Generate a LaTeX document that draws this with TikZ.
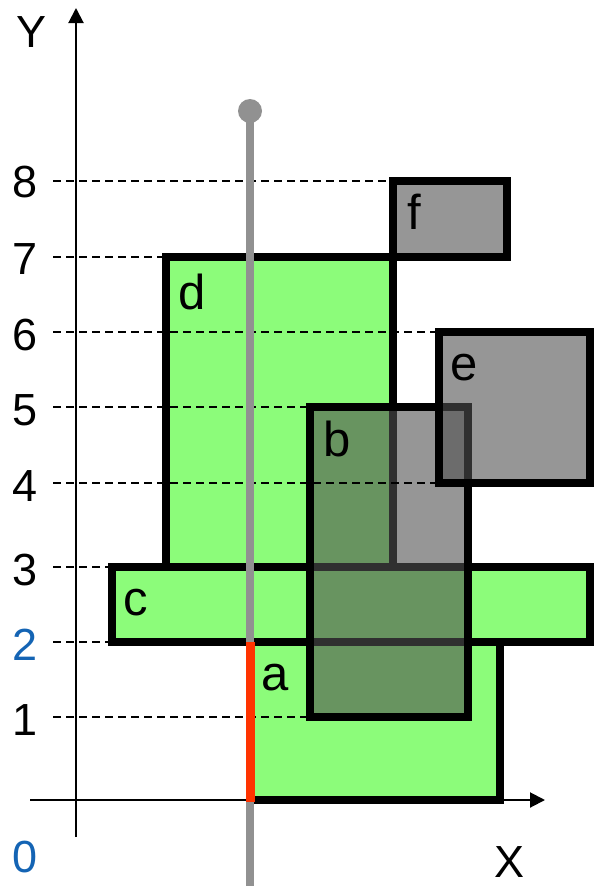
\documentclass[tikz,border=0pt]{standalone}
\usepackage{fontspec}
\setmainfont{Liberation Sans}
\usetikzlibrary{arrows.meta}
\definecolor{rectgreen}{RGB}{140,252,122}
\definecolor{shadegray}{RGB}{80,80,80}
\definecolor{rodgray}{RGB}{145,145,145}
\definecolor{redseg}{RGB}{255,51,0}
\definecolor{tickblue}{RGB}{20,100,180}
\tikzset{
  greenbox/.style={fill=rectgreen},
  boxline/.style={draw=black,line width=7.5pt,line join=miter},
  shadebox/.style={fill=shadegray,fill opacity=0.6},
  guide/.style={draw=black,line width=1.5pt,dash pattern=on 8pt off 5pt},
  axisline/.style={draw=black,line width=2pt,-{Triangle[length=15pt,width=15pt]}},
  ticklabel/.style={inner sep=0pt,font=\fontsize{45}{45}\selectfont},
  boxlabel/.style={inner sep=0pt,font=\fontsize{49}{49}\selectfont},
}
\begin{document}
\begin{tikzpicture}[x=1pt,y=-1pt]
\useasboundingbox (0,0) rectangle (594,886);
% corner coordinates
\coordinate (a1) at (250,642); \coordinate (a2) at (500,800);
\coordinate (c1) at (112,567); \coordinate (c2) at (590,642);
\coordinate (d1) at (166,257); \coordinate (d2) at (393,567);
\coordinate (b1) at (310,407); \coordinate (b2) at (468,717);
\coordinate (e1) at (439,332); \coordinate (e2) at (590,483);
\coordinate (f1) at (393,181); \coordinate (f2) at (507,257);
% green boxes
\fill[greenbox] (a1) rectangle (a2);
\fill[greenbox] (c1) rectangle (c2);
\fill[greenbox] (d1) rectangle (d2);
\draw[boxline] (a1) rectangle (a2);
\draw[boxline] (d1) rectangle (d2);
\draw[boxline] (c1) rectangle (c2);
% shaded boxes
\fill[shadebox] (b1) rectangle (b2);
\draw[boxline] (b1) rectangle (b2);
\fill[shadebox] (e1) rectangle (e2);
\draw[boxline] (e1) rectangle (e2);
\fill[shadebox] (f1) rectangle (f2);
\draw[boxline] (f1) rectangle (f2);
% guide lines
\coordinate (g8) at (53,181); \coordinate (g7) at (53,257);
\coordinate (g6) at (53,332); \coordinate (g5) at (53,407);
\coordinate (g4) at (53,483); \coordinate (g3) at (53,567);
\coordinate (g2) at (53,642); \coordinate (g1) at (53,717);
\draw[guide] (g8) -- (f1);
\draw[guide] (g7) -- (d1);
\draw[guide] (g6) -- (e1);
\draw[guide] (g5) -- (b1);
\draw[guide] (g4) -- (e1 |- g4);
\draw[guide] (g3) -- (c1);
\draw[guide] (g2) -- (c1 |- g2);
\draw[guide] (g1) -- (b1 |- g1);
% axes
\coordinate (ybot) at (76,837); \coordinate (ytop) at (76,8);
\coordinate (xleft) at (30,800); \coordinate (xright) at (545,800);
\draw[axisline] (ybot) -- (ytop);
\draw[axisline] (xleft) -- (xright);
% rod
\coordinate (rodtop) at (250,111); \coordinate (rodbot) at (250,886);
\draw[rodgray,line width=8pt] (rodtop) -- (rodbot);
\fill[rodgray] (rodtop) circle (12);
\coordinate (redtop) at (250,642); \coordinate (redbot) at (250,802);
\draw[redseg,line width=9pt] (redtop) -- (redbot);
% labels
\node[ticklabel] (lY) at (32,32) {Y};
\node[ticklabel] (lX) at (510,862) {X};
\node[ticklabel] (t8) at (25,182) {8};
\node[ticklabel] (t7) at (25,259) {7};
\node[ticklabel] (t6) at (25,335) {6};
\node[ticklabel] (t5) at (25,410) {5};
\node[ticklabel] (t4) at (25,486) {4};
\node[ticklabel] (t3) at (25,570) {3};
\node[ticklabel,text=tickblue] (t2) at (25,645) {2};
\node[ticklabel] (t1) at (25,720) {1};
\node[ticklabel,text=tickblue] (t0) at (25,857) {0};
\node[boxlabel] (la) at (275,678) {a};
\node[boxlabel] (lb) at (337,439) {b};
\node[boxlabel] (lc) at (136,603) {c};
\node[boxlabel] (ld) at (192,292) {d};
\node[boxlabel] (le) at (464,368) {e};
\node[boxlabel] (lf) at (414,212) {f};
\end{tikzpicture}
\end{document}
